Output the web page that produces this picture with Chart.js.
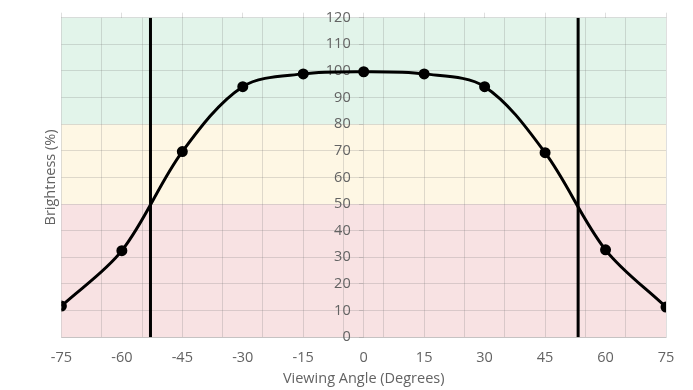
<!DOCTYPE html>
<html>
<head>
<meta charset="utf-8">
<script src="https://cdn.jsdelivr.net/npm/chart.js@4/dist/chart.umd.min.js"></script>
<style>
  html, body { margin: 0; padding: 0; background: #fff; }
  #wrap { width: 693px; height: 390px; }
</style>
</head>
<body>
<div id="wrap"><canvas id="viewChart" width="693" height="390"></canvas></div>
<script>
// viewing angle measurements
const angles = [-75, -60, -45, -30, -15, 0, 15, 30, 45, 60, 75];
const brightness = [11.7, 32.5, 69.7, 94.1, 98.9, 99.7, 98.9, 94.1, 69.3, 32.8, 11.3];

// angle where brightness falls to 50%
const cutoffAngles = [-52.9, 53.2];

// tick / grid positions
const labelTicks = [-75, -60, -45, -30, -15, 0, 15, 30, 45, 60, 75];
const gridTicks = [-75, -65, -55, -45, -35, -25, -15, -5, 5, 15, 25, 35, 45, 55, 65, 75];

// background zones (brightness %)
const zoneLimits = [0, 50, 80, 120];
const zoneColors = ['#f8e2e3', '#fef7e4', '#e2f4ea'];

const gridColor = 'rgba(110,110,110,0.22)';
const textColor = '#636363';

Chart.defaults.font.family = "'Open Sans', sans-serif";
Chart.defaults.font.size = 14.5;
Chart.defaults.color = textColor;

// paint the coloured zones behind everything
const zonesPlugin = {
  id: 'zones',
  beforeDraw(chart) {
    const { ctx, chartArea, scales } = chart;
    ctx.save();
    for (let i = 0; i < zoneColors.length; i++) {
      const yTop = scales.y.getPixelForValue(zoneLimits[i + 1]);
      const yBot = scales.y.getPixelForValue(zoneLimits[i]);
      ctx.fillStyle = zoneColors[i];
      ctx.fillRect(chartArea.left, yTop, chartArea.right - chartArea.left, yBot - yTop);
    }
    ctx.restore();
  }
};

const curve = angles.map((a, i) => ({ x: a, y: brightness[i] }));
const cutoffSets = cutoffAngles.map(a => ({
  data: [{ x: a, y: 0 }, { x: a, y: 120 }],
  borderColor: '#000',
  borderWidth: 3,
  pointRadius: 0,
  tension: 0
}));

new Chart(document.getElementById('viewChart'), {
  type: 'line',
  data: {
    datasets: [
      {
        label: 'Brightness',
        data: curve,
        borderColor: '#000',
        backgroundColor: '#000',
        borderWidth: 3,
        pointRadius: 4,
        pointHoverRadius: 4,
        tension: 0.33
      },
      ...cutoffSets
    ]
  },
  plugins: [zonesPlugin],
  options: {
    responsive: false,
    animation: false,
    layout: { padding: { top: 12, right: 27, bottom: 1, left: 38 } },
    plugins: { legend: { display: false }, tooltip: { enabled: false } },
    scales: {
      x: {
        type: 'linear',
        position: 'bottom',
        min: -75,
        max: 75,
        afterBuildTicks: axis => { axis.ticks = labelTicks.map(v => ({ value: v })); },
        // invisible tick marks just push the labels down
        grid: { drawOnChartArea: false, drawTicks: true, tickLength: 12, tickColor: 'rgba(0,0,0,0)' },
        border: { color: gridColor },
        ticks: { padding: 0, color: textColor },
        title: {
          display: true,
          text: 'Viewing Angle (Degrees)',
          color: textColor,
          padding: { top: 4, bottom: 1 }
        }
      },
      xGrid: {
        type: 'linear',
        position: 'bottom',
        min: -75,
        max: 75,
        afterBuildTicks: axis => { axis.ticks = gridTicks.map(v => ({ value: v })); },
        grid: { color: gridColor, drawTicks: false },
        border: { display: false },
        ticks: { display: false }
      },
      xTop: {
        type: 'linear',
        position: 'top',
        min: -75,
        max: 75,
        afterBuildTicks: axis => { axis.ticks = labelTicks.map(v => ({ value: v })); },
        grid: { drawOnChartArea: false, drawTicks: true, tickLength: 5, color: gridColor },
        border: { display: false },
        ticks: { display: false }
      },
      y: {
        position: 'center',
        min: 0,
        max: 120,
        ticks: { stepSize: 10, padding: 9, color: textColor },
        grid: { color: gridColor, tickLength: 4 },
        border: { color: gridColor }
      },
      yTitle: {
        position: 'left',
        min: 0,
        max: 1,
        afterBuildTicks: axis => { axis.ticks = []; },
        grid: { display: false, drawTicks: false },
        border: { display: false },
        ticks: { display: false },
        title: {
          display: true,
          text: 'Brightness (%)',
          color: textColor,
          padding: { top: 4, bottom: 2 }
        }
      }
    }
  }
});
</script>
</body>
</html>
